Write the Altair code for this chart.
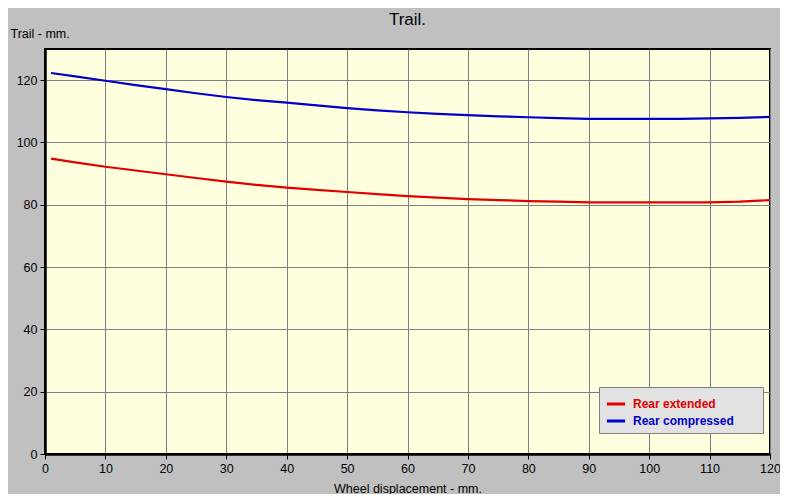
import altair as alt
import pandas as pd

x_vals = [1, 5, 10, 15, 20, 25, 30, 35, 40, 45, 50, 55, 60, 65, 70, 75, 80, 85, 90, 95, 100, 105, 110, 115, 120]
rear_extended = [94.8, 93.6, 92.2, 91.0, 89.8, 88.6, 87.4, 86.4, 85.5, 84.8, 84.1, 83.4, 82.8, 82.3, 81.8, 81.5, 81.2, 81.0, 80.8, 80.8, 80.8, 80.8, 80.8, 81.0, 81.5]
rear_compressed = [122.3, 121.2, 119.8, 118.4, 117.1, 115.8, 114.6, 113.6, 112.8, 111.9, 111.0, 110.3, 109.7, 109.2, 108.8, 108.4, 108.1, 107.8, 107.6, 107.6, 107.6, 107.6, 107.7, 107.9, 108.2]
series_names = ["Rear extended", "Rear compressed"]
series_colors = ["#e00000", "#0000c8"]

rows = []
for name, vals in zip(series_names, [rear_extended, rear_compressed]):
    for xv, yv in zip(x_vals, vals):
        rows.append({"x": xv, "y": yv, "series": name})
df = pd.DataFrame(rows)

FONT = "Liberation Sans"

chart = alt.Chart(df).mark_line(strokeWidth=2.2, interpolate="linear").encode(
    x=alt.X("x:Q", scale=alt.Scale(domain=[0, 120], nice=False, zero=True),
            axis=alt.Axis(values=list(range(0, 121, 10)), title="Wheel displacement - mm.",
                          labelFlush=False,
                          titleY=34, titleBaseline="middle", titleFontWeight="normal",
                          titleFontSize=12.5, titleFont=FONT, titleColor="black")),
    y=alt.Y("y:Q", scale=alt.Scale(domain=[0, 130], nice=False),
            axis=alt.Axis(values=list(range(0, 121, 20)), title="Trail - mm.",
                          labelFlush=False,
                          titleAngle=0, titleX=-35, titleY=-16, titleAlign="left",
                          titleBaseline="middle", titleFontWeight="normal",
                          titleFontSize=12.5, titleFont=FONT, titleColor="black")),
    color=alt.Color("series:N", sort=series_names,
                    scale=alt.Scale(domain=series_names, range=series_colors),
                    legend=alt.Legend(title="WW", titleOrient="right", titleOpacity=0,
                                      titleFontSize=9, titlePadding=6,
                                      orient="none", legendX=554, legendY=338,
                                      symbolType="stroke", symbolStrokeWidth=3, symbolSize=330,
                                      labelFont=FONT, labelFontSize=12, labelFontWeight="bold",
                                      labelColor=alt.ExprRef("datum.value == 'Rear extended' ? '#e00000' : '#0000c8'"),
                                      fillColor="#e2e2e2", strokeColor="#808080",
                                      padding=6, rowPadding=0, labelOffset=6)),
).properties(
    width=725,
    height=405,
    title=alt.TitleParams("Trail.", fontSize=17, font=FONT, fontWeight="normal",
                          color="black", anchor="middle", offset=-2, frame="group"),
    padding={"left": 37, "top": 41, "right": 10, "bottom": 40},
    autosize=alt.AutoSizeParams(type="none"),
    background="#c0c0c0",
).configure_view(
    fill="#ffffdf", stroke="black", strokeWidth=2
).configure_axis(
    grid=True, gridColor="#808080", gridWidth=1, gridOpacity=1,
    domain=True, domainColor="black", domainWidth=2.5,
    tickColor="black", tickSize=5, tickWidth=1,
    labelFont=FONT, labelFontSize=12.5, labelColor="black", labelPadding=3,
)

chart.save("out.html", embed_options={"renderer": "svg", "actions": False})
